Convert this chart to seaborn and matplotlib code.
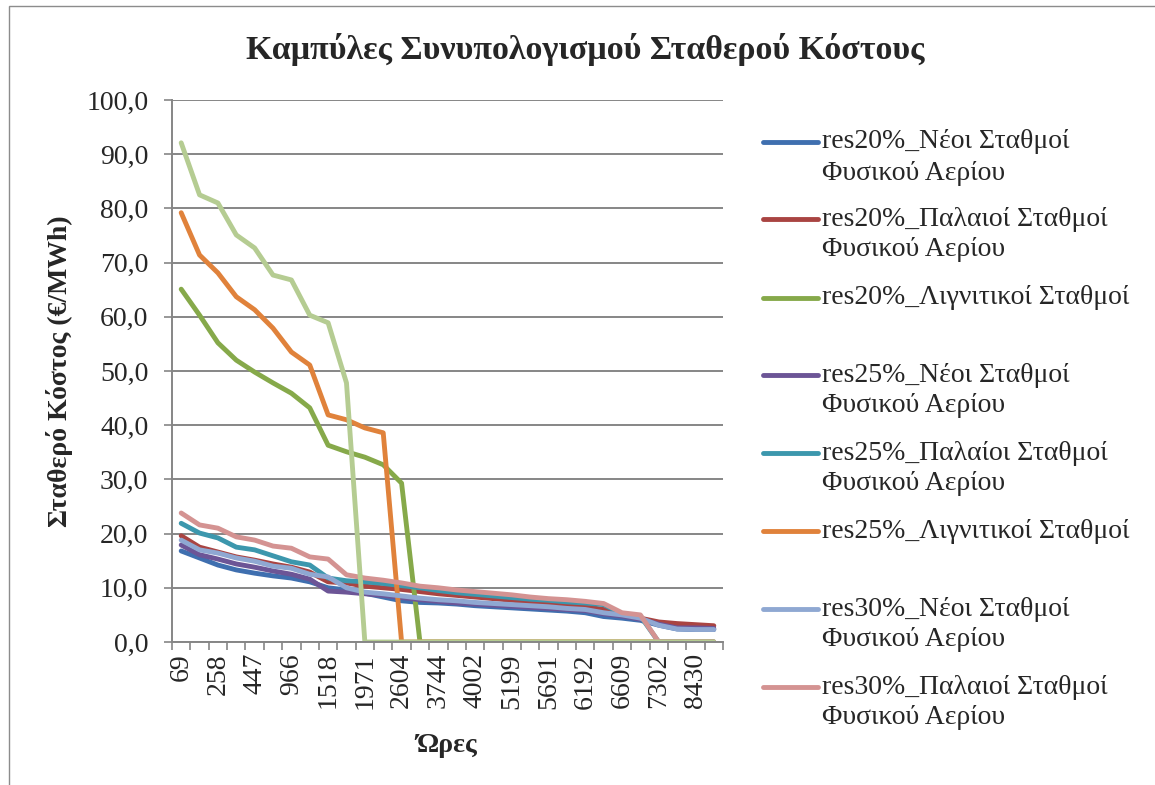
import pandas as pd
import matplotlib.pyplot as plt
import seaborn as sns
from matplotlib.lines import Line2D
from matplotlib.patches import Rectangle
from matplotlib.ticker import FuncFormatter, FixedLocator

# hours (x categories); only every other one is labelled on the axis
hours = [69, 150, 258, 350, 447, 700, 966, 1250, 1518, 1750,
         1971, 2300, 2604, 3200, 3744, 3870, 4002, 4600, 5199, 5450,
         5691, 5950, 6192, 6400, 6609, 6950, 7302, 7850, 8430, 8700]

res20_new = [16.8, 15.5, 14.2, 13.3, 12.7, 12.2, 11.8, 11.1, 10.0, 9.6,
             9.0, 8.3, 7.6, 7.3, 7.2, 7.0, 6.7, 6.5, 6.3, 6.1,
             5.9, 5.7, 5.4, 4.7, 4.4, 4.0, 3.1, 2.4, 2.3, 2.3]
res20_old = [19.6, 17.5, 16.6, 15.7, 15.1, 14.4, 13.8, 12.9, 11.1, 10.9,
             10.3, 10.0, 9.7, 9.3, 8.9, 8.6, 8.3, 8.0, 7.7, 7.4,
             7.1, 6.8, 6.5, 6.0, 5.0, 4.4, 3.7, 3.4, 3.2, 3.0]
res20_lig = [65.1, 60.3, 55.2, 52.0, 49.8, 47.8, 45.9, 43.2, 36.3, 35.1,
             34.1, 32.7, 29.3, 0, 0, 0, 0, 0, 0, 0,
             0, 0, 0, 0, 0, 0, 0, 0, 0, 0]
res25_new = [17.9, 16.1, 15.3, 14.4, 13.8, 13.1, 12.5, 11.6, 9.4, 9.2,
             8.9, 8.6, 8.2, 7.8, 7.5, 7.2, 7.0, 6.8, 6.6, 6.4,
             6.2, 6.0, 5.8, 5.2, 4.8, 4.2, 3.3, 2.6, 2.6, 2.5]
res25_old = [21.9, 20.1, 19.2, 17.5, 17.0, 15.9, 14.8, 14.2, 11.8, 11.3,
             11.1, 10.8, 10.4, 10.0, 9.5, 9.1, 8.8, 8.5, 8.2, 7.9,
             7.7, 7.4, 7.2, 6.9, 5.2, 4.8, 0, 0, 0, 0]
res25_lig = [79.2, 71.4, 68.1, 63.7, 61.3, 57.9, 53.5, 51.1, 41.9, 41.0,
             39.5, 38.6, 0, 0, 0, 0, 0, 0, 0, 0,
             0, 0, 0, 0, 0, 0, 0, 0, 0, 0]
res30_new = [18.8, 17.0, 16.4, 15.5, 14.9, 14.0, 13.6, 12.5, 12.0, 10.0,
             9.2, 8.9, 8.5, 8.1, 7.8, 7.6, 7.3, 7.1, 6.9, 6.7,
             6.5, 6.2, 6.0, 5.4, 5.0, 4.4, 3.1, 2.4, 2.3, 2.3]
res30_old = [23.8, 21.6, 21.0, 19.4, 18.8, 17.7, 17.3, 15.7, 15.3, 12.4,
             11.8, 11.4, 10.9, 10.3, 10.0, 9.6, 9.3, 9.0, 8.7, 8.3,
             8.0, 7.8, 7.5, 7.1, 5.4, 5.0, 0, 0, 0, 0]
res30_lig = [92.1, 82.5, 81.0, 75.1, 72.7, 67.7, 66.8, 60.3, 58.9, 47.8,
             0, 0, 0, 0, 0, 0, 0, 0, 0, 0,
             0, 0, 0, 0, 0, 0, 0, 0, 0, 0]

labels = [
    'res20%_Νέοι Σταθμοί\nΦυσικού Αερίου',
    'res20%_Παλαιοί Σταθμοί\nΦυσικού Αερίου',
    'res20%_Λιγνιτικοί Σταθμοί',
    'res25%_Νέοι Σταθμοί\nΦυσικού Αερίου',
    'res25%_Παλαίοι Σταθμοί\nΦυσικού Αερίου',
    'res25%_Λιγνιτικοί Σταθμοί',
    'res30%_Νέοι Σταθμοί\nΦυσικού Αερίου',
    'res30%_Παλαιοί Σταθμοί\nΦυσικού Αερίου',
    'res30%_Λιγνιτικοί Σταθμοί',
]
series = [res20_new, res20_old, res20_lig, res25_new, res25_old,
          res25_lig, res30_new, res30_old, res30_lig]
colors = ['#3F6FAF', '#A94442', '#86A94A', '#6C5596', '#3C97AD',
          '#E0823B', '#8FA8D2', '#D49392', '#B5CC92']

rows = []
for lab, vals in zip(labels, series):
    for i, v in enumerate(vals):
        rows.append({'pos': i, 'value': v, 'series': lab})
df = pd.DataFrame(rows)

sns.set_theme(style="white")
plt.rcParams['font.family'] = ['Liberation Serif', 'DejaVu Serif']

W, H = 1155, 785
fig = plt.figure(figsize=(W / 100, H / 100), dpi=100)
ax = fig.add_axes([172 / W, 1 - 642 / H, (723 - 172) / W, (642 - 100) / H])

grid_c = '#868686'
sns.lineplot(data=df, x='pos', y='value', hue='series', hue_order=labels,
             palette=dict(zip(labels, colors)), linewidth=3.5, ax=ax,
             legend=False, solid_capstyle='round', solid_joinstyle='round')

ax.set_xlim(-0.5, len(hours) - 0.5)
ax.set_ylim(0, 100)
ax.set_yticks(range(0, 101, 10))
ax.yaxis.set_major_formatter(FuncFormatter(lambda v, p: f'{v:.1f}'.replace('.', ',')))
ax.yaxis.grid(True, color=grid_c, linewidth=1.4)
ax.set_axisbelow(True)

major = list(range(0, len(hours), 2))
ax.set_xticks(major)
ax.set_xticklabels([str(hours[i]) for i in major], rotation=90)
ax.xaxis.set_minor_locator(FixedLocator([i - 0.5 for i in range(len(hours) + 1)]))
ax.tick_params(axis='x', which='major', length=0, labelsize=20, pad=8)
ax.tick_params(axis='x', which='minor', length=6, width=1.2, color=grid_c, bottom=True)
ax.tick_params(axis='y', length=6, width=1.2, color=grid_c, left=True, labelsize=20, pad=11)

for s in ['top', 'right']:
    ax.spines[s].set_visible(False)
for s in ['left', 'bottom']:
    ax.spines[s].set_color(grid_c)
    ax.spines[s].set_linewidth(1.4)

ax.set_xlabel('Ώρες', fontsize=20, fontweight='bold')
ax.xaxis.set_label_coords((447 - 172) / 551, (642 - 745) / 542)
ax.set_ylabel('Σταθερό Κόστος (€/MWh)', fontsize=20, fontweight='bold')
ax.yaxis.set_label_coords((60 - 172) / 551, 0.5)
ax.yaxis.label.set_va('center')
ax.xaxis.label.set_va('center')
fig.text(585 / W, 1 - 50 / H, 'Καμπύλες Συνυπολογισμού Σταθερού Κόστους',
         ha='center', va='center', fontsize=24.5, fontweight='bold')

# legend (last series entry is cut off in the original)
leg_y = [142, 219, 298, 375, 453, 531, 609, 687]
for lab, col, y in zip(labels[:8], colors[:8], leg_y):
    fig.add_artist(Line2D([763 / W, 818 / W], [1 - y / H, 1 - y / H],
                          color=col, linewidth=3.5, solid_capstyle='round'))
    for k, line in enumerate(lab.split('\n')):
        fig.text(822 / W, 1 - (y + 31 * k) / H, line, ha='left',
                 va='center', fontsize=20)

fig.add_artist(Rectangle((9 / W, -0.1), 1.2, 1.1 - 6 / H, fill=False,
                         edgecolor='#8C8C8C', linewidth=1, transform=fig.transFigure))

plt.savefig('out.png', dpi=100)
